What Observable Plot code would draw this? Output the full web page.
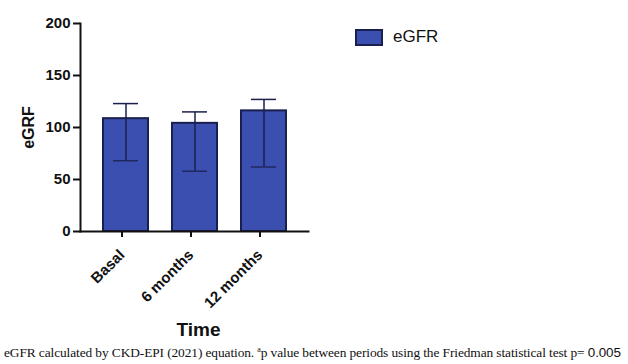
<!DOCTYPE html>
<html><head><meta charset="utf-8">
<script src="https://cdn.jsdelivr.net/npm/d3@7"></script>
<script src="https://cdn.jsdelivr.net/npm/@observablehq/plot@0.6"></script>
<style>
body{margin:0;background:#fff;width:628px;height:364px;overflow:hidden;position:relative;font-family:"Liberation Sans",Arial,sans-serif;}
#legend{position:absolute;left:355px;top:27px;display:flex;align-items:center;font-size:17px;color:#111;}
#legend span.sw{display:inline-block;width:24px;height:13px;background:#3a4fb0;border:2px solid #1a1f4d;margin-right:10px;}
#caption{position:absolute;left:4px;top:345px;font-family:"Liberation Serif","Times New Roman",serif;font-size:13.4px;color:#111;white-space:nowrap;letter-spacing:-0.1px;}
#caption b{font-family:"Liberation Sans",Arial,sans-serif;font-weight:normal;}
</style>
</head><body>
<div id="chart"></div>
<div id="legend"><span class="sw"></span>eGFR</div>
<div id="caption">eGFR calculated by CKD-EPI (2021) equation. <sup style="font-size:8px">a</sup>p value between periods using the Friedman statistical test p= <b>0.005</b></div>
<script>
const categories = ["Basal", "6 months", "12 months"];
const means = [108.5, 104, 116];
const errLow = [68, 58, 62];
const errHigh = [123, 115, 127];
const yTicks = [0, 50, 100, 150, 200];

const data = categories.map((c, i) => ({cat: c, mean: means[i], lo: errLow[i], hi: errHigh[i]}));

const chart = Plot.plot({
  width: 628,
  height: 343,
  marginLeft: 80,
  marginRight: 320,
  marginTop: 23,
  marginBottom: 112,
  style: {fontFamily: "'Liberation Sans', Arial, sans-serif", fontSize: "15px", fontWeight: "bold", color: "#111", background: "transparent"},
  x: {domain: categories, paddingInner: 0.35, paddingOuter: 0.32, label: null},
  y: {domain: [0, 200], label: null},
  marks: [
    Plot.barY(data, {x: "cat", y: "mean", fill: "#3a4fb0", stroke: "#1a1f4d", strokeWidth: 2}),
    Plot.ruleX(data, {x: "cat", y1: "lo", y2: "hi", stroke: "#1a1f4d", strokeWidth: 1.5}),
    Plot.tickY(data, {x: "cat", y: "hi", stroke: "#1a1f4d", strokeWidth: 1.5, inset: 10}),
    Plot.tickY(data, {x: "cat", y: "lo", stroke: "#1a1f4d", strokeWidth: 1.2, inset: 10}),
    Plot.frame({anchor: "left", stroke: "#111", strokeWidth: 2}),
    Plot.frame({anchor: "bottom", stroke: "#111", strokeWidth: 2}),
    Plot.axisY({ticks: yTicks, tickSize: 7, tickPadding: 3, fontSize: 15, fontWeight: "bold", strokeWidth: 2, label: null}),
    Plot.axisX({tickSize: 6, tickRotate: -45, tickPadding: 15, dx: -4, fontSize: 15, fontWeight: "bold", strokeWidth: 2, label: null}),
    Plot.text(["Time"], {frameAnchor: "bottom", dy: 104, dx: 4, fontSize: 19, fontWeight: "bold", fill: "#111"}),
    Plot.text(["eGRF"], {frameAnchor: "left", dx: -52, rotate: -90, textAnchor: "middle", fontSize: 16, fontWeight: "bold", fill: "#111"})
  ]
});
document.getElementById("chart").appendChild(chart);
</script>
</body></html>
